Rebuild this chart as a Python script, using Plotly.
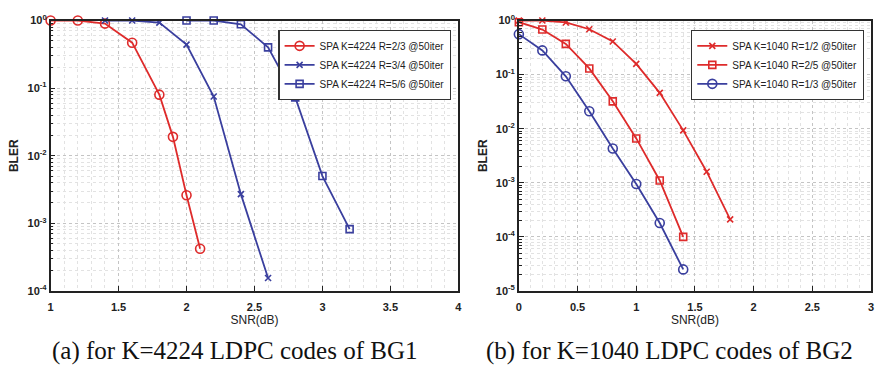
import plotly.graph_objects as go

# ---- data: (a) K=4224, BG1 ----
snr_a_r23 = [1.0, 1.2, 1.4, 1.6, 1.8, 1.9, 2.0, 2.1]
bler_a_r23 = [1.0, 1.0, 0.9, 0.47, 0.08, 0.019, 0.0026, 0.00042]
snr_a_r34 = [1.4, 1.6, 1.8, 2.0, 2.2, 2.4, 2.6]
bler_a_r34 = [1.0, 1.0, 0.93, 0.44, 0.075, 0.0027, 0.000155]
snr_a_r56 = [2.0, 2.2, 2.4, 2.6, 2.8, 3.0, 3.2]
bler_a_r56 = [1.0, 1.0, 0.88, 0.40, 0.073, 0.005, 0.00082]

# ---- data: (b) K=1040, BG2 ----
snr_b = [0.0, 0.2, 0.4, 0.6, 0.8, 1.0, 1.2, 1.4, 1.6, 1.8]
bler_b_r12 = [1.0, 1.0, 0.92, 0.69, 0.41, 0.158, 0.046, 0.0093, 0.0016, 0.00021]
snr_b_r25 = [0.0, 0.2, 0.4, 0.6, 0.8, 1.0, 1.2, 1.4]
bler_b_r25 = [0.93, 0.68, 0.37, 0.13, 0.032, 0.0066, 0.0011, 0.0001]
snr_b_r13 = [0.0, 0.2, 0.4, 0.6, 0.8, 1.0, 1.2, 1.4]
bler_b_r13 = [0.56, 0.28, 0.093, 0.021, 0.0043, 0.00095, 0.00018, 0.000025]

names_a = ["SPA K=4224 R=2/3 @50iter", "SPA K=4224 R=3/4 @50iter", "SPA K=4224 R=5/6 @50iter"]
names_b = ["SPA K=1040 R=1/2 @50iter", "SPA K=1040 R=2/5 @50iter", "SPA K=1040 R=1/3 @50iter"]
captions = ["(a) for K=4224 LDPC codes of BG1", "(b) for K=1040 LDPC codes of BG2"]

RED = "#de2b2b"
BLUE = "#3a3f9e"

W, H = 879, 371
fig = go.Figure()

def tr(x, y, name, color, symbol, msize, xa, ya, legend):
    return go.Scatter(
        x=x, y=y, name=name, mode="lines+markers", cliponaxis=False,
        line=dict(color=color, width=1.8),
        marker=dict(symbol=symbol, size=msize, color=color,
                    line=dict(color=color, width=1.6)),
        xaxis=xa, yaxis=ya, legend=legend)

fig.add_trace(tr(snr_a_r23, bler_a_r23, names_a[0], RED, "circle-open", 9, "x", "y", "legend"))
fig.add_trace(tr(snr_a_r34, bler_a_r34, names_a[1], BLUE, "x-thin-open", 6, "x", "y", "legend"))
fig.add_trace(tr(snr_a_r56, bler_a_r56, names_a[2], BLUE, "square-open", 7, "x", "y", "legend"))
fig.add_trace(tr(snr_b, bler_b_r12, names_b[0], RED, "x-thin-open", 6, "x2", "y2", "legend2"))
fig.add_trace(tr(snr_b_r25, bler_b_r25, names_b[1], RED, "square-open", 7, "x2", "y2", "legend2"))
fig.add_trace(tr(snr_b_r13, bler_b_r13, names_b[2], BLUE, "circle-open", 9, "x2", "y2", "legend2"))

tick_font = dict(family="Liberation Sans, Arial", size=11, color="#222", weight="bold")
title_font = dict(family="Liberation Sans, Arial", size=12, color="#222")

def xaxis(domain, rng, anchor):
    return dict(domain=domain, range=rng, anchor=anchor, dtick=0.5,
                showline=True, mirror=True, linecolor="#222", linewidth=1.5,
                ticks="inside", ticklen=5, tickcolor="#222", ticklabelstandoff=5,
                showgrid=True, gridcolor="#c4c4c4", griddash="dot", gridwidth=1,
                minor=dict(dtick=0.1, showgrid=True, gridcolor="#e2e2e2", griddash="dot"),
                zeroline=False, tickfont=tick_font,
                title=dict(text="SNR(dB)", font=title_font, standoff=3))

def yaxis(domain, lo, anchor):
    vals = [10.0 ** e for e in range(lo, 1)]
    texts = ["10<sup>%d</sup>" % e for e in range(lo, 1)]
    return dict(domain=domain, type="log", range=[lo, 0], anchor=anchor,
                tickvals=vals, ticktext=texts,
                showline=True, mirror=True, linecolor="#222", linewidth=1.5,
                ticks="inside", ticklen=5, tickcolor="#222",
                showgrid=True, gridcolor="#c4c4c4", griddash="dot", gridwidth=1,
                minor=dict(dtick="D1", showgrid=True, gridcolor="#e2e2e2", griddash="dot",
                           ticks="inside", ticklen=3, tickcolor="#222"),
                zeroline=False, tickfont=tick_font,
                title=dict(text="BLER", font=dict(family="Liberation Sans, Arial", size=12,
                                                  color="#222", weight="bold"), standoff=6))

leg_font = dict(family="Liberation Sans, Arial", size=10, color="#222")
ydom = [1 - 294 / H, 1 - 13 / H]
fig.update_layout(
    width=W, height=H,
    margin=dict(l=0, r=0, t=0, b=0),
    paper_bgcolor="white", plot_bgcolor="white",
    xaxis=xaxis([48 / W, 459 / W], [1, 4], "y"),
    yaxis=yaxis(ydom, -4, "x"),
    xaxis2=xaxis([520 / W, 875 / W], [0, 3], "y2"),
    yaxis2=yaxis(ydom, -5, "x2"),
    legend=dict(x=452 / W, y=1 - 23 / H, xanchor="right", yanchor="top",
                bgcolor="white", bordercolor="#333", borderwidth=1.2,
                font=leg_font, itemwidth=30, tracegroupgap=0),
    legend2=dict(x=868 / W, y=1 - 23 / H, xanchor="right", yanchor="top",
                 bgcolor="white", bordercolor="#333", borderwidth=1.2,
                 font=leg_font, itemwidth=30, tracegroupgap=0),
    showlegend=True,
)

cap_font = dict(family="Liberation Serif, Times New Roman", size=25, color="#111")
fig.add_annotation(text=captions[0], x=233 / W, y=(H - 356) / H, xref="paper", yref="paper",
                   showarrow=False, font=cap_font, xanchor="center", yanchor="middle")
fig.add_annotation(text=captions[1], x=672 / W, y=(H - 356) / H, xref="paper", yref="paper",
                   showarrow=False, font=cap_font, xanchor="center", yanchor="middle")

fig.write_html("out.html")
